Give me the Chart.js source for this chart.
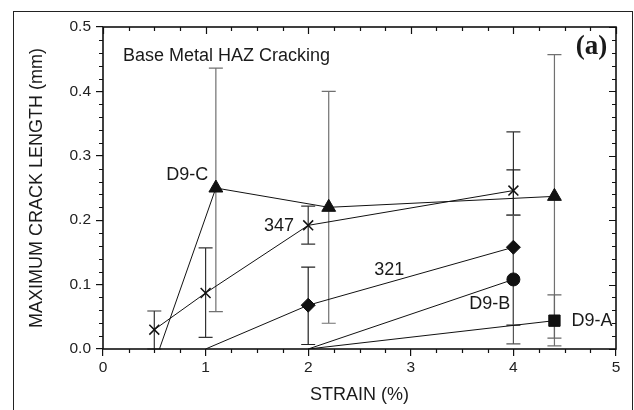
<!DOCTYPE html>
<html>
<head>
<meta charset="utf-8">
<script src="https://cdn.jsdelivr.net/npm/chart.js@4.4.1/dist/chart.umd.min.js"></script>
<style>
  html, body { margin: 0; padding: 0; background: #fff; }
  #wrap { position: relative; width: 634px; height: 410px; overflow: hidden; }
  #frame { position: absolute; left: 13px; top: 11px; width: 618px; height: 420px; border: 1.5px solid #222; }
  #c { position: absolute; left: 0; top: 0; }
</style>
</head>
<body>
<div id="wrap">
  <div id="frame"></div>
  <canvas id="c" width="634" height="410"></canvas>
</div>
<script>
// strain (%) and max crack length (mm), with error bar low/high
const d9cX = [0.55, 1.1, 2.2, 4.4];
const d9cY = [0, 0.25, 0.22, 0.237];
const d9cLo = [null, 0.058, 0.04, 0.005];
const d9cHi = [null, 0.436, 0.40, 0.457];

const s347X = [0.5, 1.0, 2.0, 4.0];
const s347Y = [0.03, 0.087, 0.192, 0.246];
const s347Lo = [0, 0.018, 0.163, 0.208];
const s347Hi = [0.059, 0.157, 0.222, 0.337];

const s321X = [1.0, 2.0, 4.0];
const s321Y = [0, 0.068, 0.158];
const s321Lo = [null, 0.007, 0.037];
const s321Hi = [null, 0.127, 0.278];

const d9bX = [2.0, 4.0];
const d9bY = [0, 0.108];
const d9bLo = [null, 0.008];
const d9bHi = [null, 0.208];

const d9aX = [2.0, 4.4];
const d9aY = [0, 0.044];
const d9aLo = [null, 0.017];
const d9aHi = [null, 0.084];

const xTicks = [0, 1, 2, 3, 4, 5];
const yTicks = [0, 0.1, 0.2, 0.3, 0.4, 0.5];

// text labels in data coordinates
const notes = [
  { text: "Base Metal HAZ Cracking", x: 0.195, y: 0.455, align: "left" },
  { text: "(a)", x: 4.76, y: 0.469, align: "center", bold: true },
  { text: "D9-C", x: 0.82, y: 0.27, align: "center" },
  { text: "347", x: 1.715, y: 0.191, align: "center" },
  { text: "321", x: 2.79, y: 0.123, align: "center" },
  { text: "D9-B", x: 3.77, y: 0.07, align: "center" },
  { text: "D9-A", x: 4.765, y: 0.0435, align: "center" }
];

const pts = (xs, ys) => xs.map((x, i) => ({ x: x, y: ys[i] }));
const radii = (xs, r) => xs.map((x, i) => (i === 0 && xs.length < 4 ? 0 : r));

const datasets = [
  { label: "D9-C", data: pts(d9cX, d9cY), lo: d9cLo, hi: d9cHi, errColor: "#707070",
    pointStyle: "triangle", pointRadius: [0, 8, 8, 8] },
  { label: "347", data: pts(s347X, s347Y), lo: s347Lo, hi: s347Hi, errColor: "#333",
    pointStyle: "crossRot", pointRadius: 7, pointBorderWidth: 1.5 },
  { label: "321", data: pts(s321X, s321Y), lo: s321Lo, hi: s321Hi, errColor: "#222",
    pointStyle: "rectRot", pointRadius: radii(s321X, 7) },
  { label: "D9-B", data: pts(d9bX, d9bY), lo: d9bLo, hi: d9bHi, errColor: "#555",
    pointStyle: "circle", pointRadius: radii(d9bX, 6.5) },
  { label: "D9-A", data: pts(d9aX, d9aY), lo: d9aLo, hi: d9aHi, errColor: "#666",
    pointStyle: "rect", pointRadius: radii(d9aX, 8) }
].map((d) => Object.assign({
  showLine: true,
  borderColor: "#111",
  borderWidth: 1,
  backgroundColor: "#111",
  pointBackgroundColor: "#111",
  pointBorderColor: "#111",
  pointBorderWidth: 1,
  tension: 0
}, d));

const errorBars = {
  id: "errorBars",
  beforeDatasetsDraw(chart) {
    const ctx = chart.ctx;
    const xs = chart.scales.x, ys = chart.scales.y;
    ctx.save();
    ctx.lineWidth = 1.2;
    chart.data.datasets.forEach((ds) => {
      ctx.strokeStyle = ds.errColor;
      ds.data.forEach((p, i) => {
        if (ds.lo[i] == null) return;
        const px = xs.getPixelForValue(p.x);
        const y1 = ys.getPixelForValue(ds.lo[i]);
        const y2 = ys.getPixelForValue(ds.hi[i]);
        ctx.beginPath();
        ctx.moveTo(px, y1); ctx.lineTo(px, y2);
        ctx.moveTo(px - 7, y1); ctx.lineTo(px + 7, y1);
        ctx.moveTo(px - 7, y2); ctx.lineTo(px + 7, y2);
        ctx.stroke();
      });
    });
    ctx.restore();
  }
};

const frameTicks = {
  id: "frameTicks",
  afterDraw(chart) {
    const ctx = chart.ctx;
    const a = chart.chartArea;
    const xs = chart.scales.x, ys = chart.scales.y;
    ctx.save();
    ctx.strokeStyle = "#111";
    ctx.lineWidth = 1.2;
    ctx.beginPath();
    // x ticks: bottom outward, top inward
    for (let v = 0; v <= 5.001; v += 0.25) {
      const px = Math.round(xs.getPixelForValue(v)) + 0.5;
      const major = Math.abs(v - Math.round(v)) < 1e-6;
      const len = major ? 7 : 4;
      if (!major) { ctx.moveTo(px, a.bottom); ctx.lineTo(px, a.bottom + len); }
      ctx.moveTo(px, a.top); ctx.lineTo(px, a.top + len);
    }
    // y ticks: left outward, right inward
    for (let k = 0; k <= 25; k++) {
      const v = k * 0.02;
      const py = Math.round(ys.getPixelForValue(v)) + 0.5;
      const major = k % 5 === 0;
      const len = major ? 7 : 4;
      if (!major) { ctx.moveTo(a.left, py); ctx.lineTo(a.left - len, py); }
      ctx.moveTo(a.right, py); ctx.lineTo(a.right - len, py);
    }
    ctx.stroke();
    ctx.lineWidth = 1.6;
    ctx.strokeRect(a.left, a.top, a.right - a.left, a.bottom - a.top);

    ctx.fillStyle = "#1a1a1a";
    ctx.textBaseline = "middle";
    notes.forEach((n) => {
      ctx.font = n.bold ? "bold 27px 'Liberation Serif', serif" : "18px 'Liberation Sans', Arial, sans-serif";
      ctx.textAlign = n.align;
      ctx.fillText(n.text, xs.getPixelForValue(n.x), ys.getPixelForValue(n.y));
    });
    ctx.restore();
  }
};

const tickFont = { family: "'Liberation Sans', Arial, sans-serif", size: 15.5 };
const titleFont = { family: "'Liberation Sans', Arial, sans-serif", size: 18 };

new Chart(document.getElementById("c").getContext("2d"), {
  type: "scatter",
  data: { datasets: datasets },
  options: {
    responsive: false,
    animation: false,
    layout: { padding: { left: 0, right: 18, top: 27, bottom: 0 } },
    plugins: { legend: { display: false }, tooltip: { enabled: false } },
    scales: {
      x: {
        type: "linear", min: 0, max: 5,
        afterBuildTicks: (s) => { s.ticks = xTicks.map((v) => ({ value: v })); },
        afterFit: (s) => { s.height = 61; },
        ticks: { font: tickFont, color: "#222", padding: 2, callback: (v) => v.toString() },
        grid: { drawOnChartArea: false, drawTicks: true, tickLength: 7, color: "#111", lineWidth: 1.2 },
        border: { display: false },
        title: { display: true, text: "STRAIN (%)", font: titleFont, color: "#1a1a1a", padding: { top: 0, bottom: 4 } }
      },
      y: {
        type: "linear", min: 0, max: 0.5,
        afterBuildTicks: (s) => { s.ticks = yTicks.map((v) => ({ value: v })); },
        afterFit: (s) => { s.width = 103; },
        ticks: { font: tickFont, color: "#222", padding: 5, callback: (v) => v.toFixed(1) },
        grid: { drawOnChartArea: false, drawTicks: true, tickLength: 7, color: "#111", lineWidth: 1.2 },
        border: { display: false },
        title: { display: true, text: "MAXIMUM CRACK LENGTH (mm)", font: titleFont, color: "#1a1a1a", padding: { top: 26, bottom: 0 } }
      }
    }
  },
  plugins: [errorBars, frameTicks]
});
</script>
</body>
</html>
